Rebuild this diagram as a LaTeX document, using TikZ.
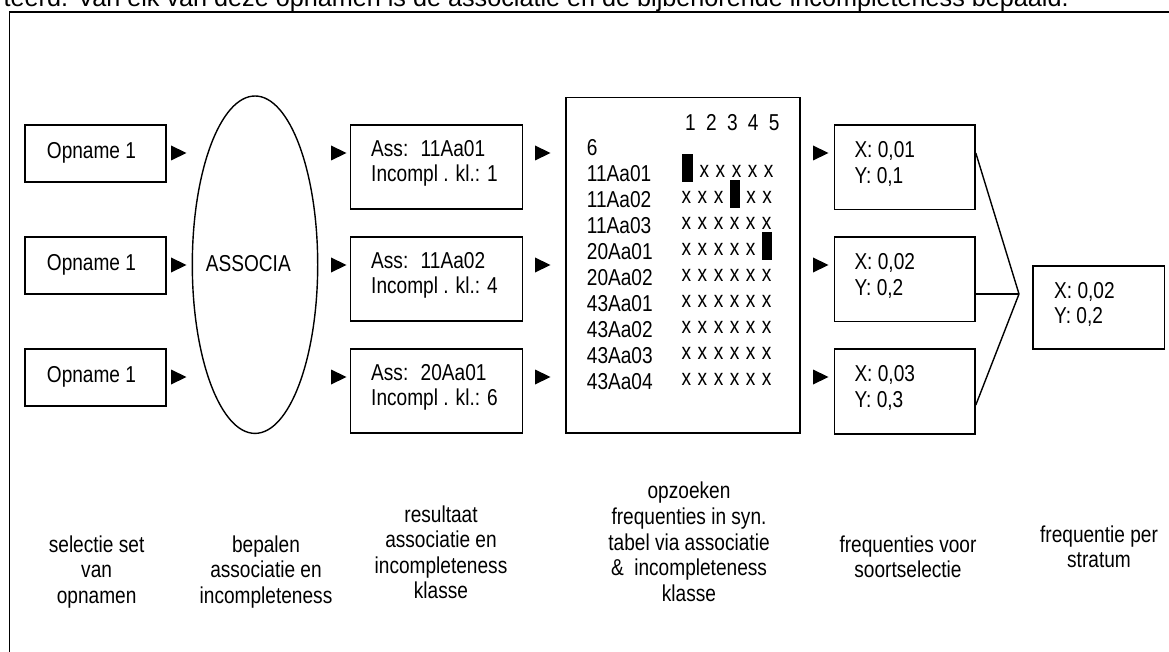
\documentclass[tikz,border=0pt]{standalone}
\usepackage{fontspec}
\setmainfont{Liberation Sans}[FakeStretch=0.83]
\newfontfamily\topfont{Liberation Sans}
\usetikzlibrary{shapes.geometric}
\newcommand\basefnt{\fontsize{23}{25.6}\selectfont}
\newcommand\tabfnt{\fontsize{23}{26}\selectfont}
\newcommand\hdrfnt{\fontsize{23}{25.6}\selectfont\spaceskip=10.3pt\relax}
\newcommand\markfnt{\fontsize{23}{26}\selectfont\spaceskip=6.5pt\relax}
\tikzset{
  txt/.style={inner sep=0pt, font=\basefnt, align=left, anchor=north west,
    execute at begin node=\strut, execute at end node=\strut},
  ctxt/.style={txt, align=center, anchor=north},
  tabtxt/.style={txt, font=\tabfnt},
  boxnode/.style={draw, line width=1.6pt, inner sep=0pt},
  fanline/.style={line width=1.4pt},
  tri/.style={fill=black}
}
\newcommand\arrowtri[2]{\fill[tri] (#1,#2-7.5) -- (#1+15.5,#2) -- (#1,#2+7.5) -- cycle;}
\begin{document}
\begin{tikzpicture}[x=1pt,y=-1pt]
\useasboundingbox (0,0) rectangle (1169,652);
\clip (0,0) rectangle (1169,652);
% top text (cut off, as in the reference)
\node[anchor=base east, inner sep=0pt, font=\topfont\fontsize{25.2}{29}\selectfont] (toptext) at (1069,7)
  {teerd. Van elk van deze opnamen is de associatie en de bijbehorende incompleteness bepaald.};
% frame
\draw[line width=1.4pt] (1200,12) -- (9.5,12) -- (9.5,700);
% Opname boxes
\node[boxnode, minimum width=141pt, minimum height=57pt] (o1) at (95.5,153.5) {};
\node[boxnode, minimum width=141pt, minimum height=57pt] (o2) at (95.5,265.5) {};
\node[boxnode, minimum width=141pt, minimum height=57pt] (o3) at (95.5,377.5) {};
\node[txt] (o1t) at (46.7,140.3) {Opname 1};
\node[txt] (o2t) at (46.7,252.3) {Opname 1};
\node[txt] (o3t) at (46.7,364.3) {Opname 1};
% ellipse
\node[ellipse, draw, line width=1.4pt, inner sep=0pt, minimum width=125.4pt, minimum height=337.4pt] (assoc) at (255,264.7) {};
\node[txt] (assoct) at (205.7,253.3) {ASSOCIA};
% Ass boxes
\node[boxnode, minimum width=172pt, minimum height=84pt] (a1) at (436.5,167) {};
\node[boxnode, minimum width=172pt, minimum height=84pt] (a2) at (436.5,279) {};
\node[boxnode, minimum width=172pt, minimum height=84pt] (a3) at (436.5,391) {};
\node[txt] (a1t) at (371,139.8) {Ass: \ 11Aa01\\Incompl . kl.: 1};
\node[txt] (a2t) at (371,251.8) {Ass: \ 11Aa02\\Incompl . kl.: 4};
\node[txt] (a3t) at (371,363.8) {Ass: \ 20Aa01\\Incompl . kl.: 6};
% table
\node[boxnode, minimum width=234pt, minimum height=335.3pt] (tab) at (683,265.35) {};
\node[txt, font=\hdrfnt] (hdr) at (685,112.6) {1 2 3 4 5};
\node[tabtxt] (rows) at (586.7,139.3) {6\\11Aa01\\11Aa02\\11Aa03\\20Aa01\\20Aa02\\43Aa01\\43Aa02\\43Aa03\\43Aa04};
\node[tabtxt, font=\markfnt] (marks) at (681.5,165)
  {\smash{\rule[-4.5pt]{11.5pt}{27.5pt}} x x x x x\\
   x x x \smash{\rule[-4.5pt]{10pt}{27.5pt}} x x\\
   x x x x x x\\
   x x x x x \smash{\rule[-4.5pt]{10pt}{27.5pt}}\\
   x x x x x x\\
   x x x x x x\\
   x x x x x x\\
   x x x x x x\\
   x x x x x x};
% XY boxes
\node[boxnode, minimum width=140.7pt, minimum height=84.5pt] (xy1) at (904.65,167.25) {};
\node[boxnode, minimum width=140.7pt, minimum height=84.5pt] (xy2) at (904.65,279.35) {};
\node[boxnode, minimum width=140.7pt, minimum height=84.5pt] (xy3) at (904.65,391.5) {};
\node[txt] (xy1t) at (854.3,141.3) {X: 0,01\\Y: 0,1};
\node[txt] (xy2t) at (854.3,253.6) {X: 0,02\\Y: 0,2};
\node[txt] (xy3t) at (854.3,365.6) {X: 0,03\\Y: 0,3};
% final box
\node[boxnode, minimum width=131.6pt, minimum height=83.3pt] (fin) at (1098.5,307.35) {};
\node[txt] (fint) at (1054,282) {X: 0,02\\Y: 0,2};
% fan lines
\coordinate (j) at (1019,294);
\draw[fanline] ([yshift=14.25pt]xy1.east) -- (j);
\draw[fanline] (xy2.east |- j) -- (j);
\draw[fanline] ([yshift=-13.5pt]xy3.east) -- (j);
% triangles
\foreach \tx in {171,331,535,813}{
  \foreach \ty in {153,265,377}{
    \arrowtri{\tx}{\ty}
  }
}
% bottom labels
\node[ctxt] (l1) at (96.6,535.3) {selectie set\\van\\opnamen};
\node[ctxt] (l2) at (266,535.3) {bepalen\\associatie en\\incompleteness};
\node[ctxt] (l3) at (441,505.3) {resultaat\\associatie en\\incompleteness\\klasse};
\node[ctxt] (l4) at (689,482) {opzoeken\\frequenties in syn.\\tabel via associatie\\\& \ incompleteness\\klasse};
\node[ctxt] (l5) at (908,535.3) {frequenties voor\\soortselectie};
\node[ctxt] (l6) at (1099,525.3) {frequentie per\\stratum};
\end{tikzpicture}
\end{document}
